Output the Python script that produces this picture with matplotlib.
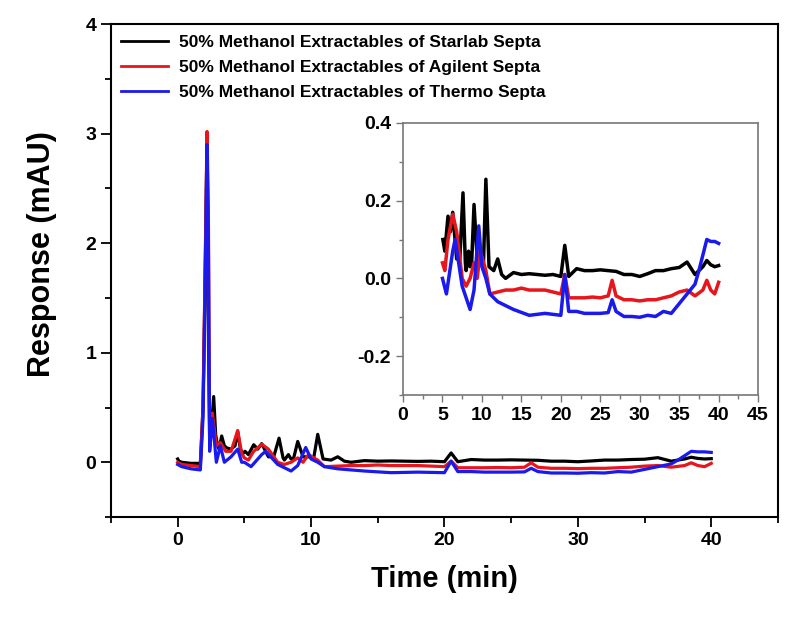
import matplotlib
matplotlib.use("Agg")
import matplotlib.pyplot as plt
from matplotlib.ticker import MultipleLocator

plt.rcParams['font.family'] = ['Liberation Sans', 'DejaVu Sans']
plt.rcParams['font.weight'] = 'bold'
plt.rcParams['axes.unicode_minus'] = False

labels = ["50% Methanol Extractables of Starlab Septa",
          "50% Methanol Extractables of Agilent Septa",
          "50% Methanol Extractables of Thermo Septa"]
colors = ["black", "#e8151b", "#1a1aee"]

# Starlab (black)
t_black = [0.0, 0.1, 0.3, 1.0, 1.7, 1.9, 2.05, 2.2, 2.3, 2.4, 2.55, 2.7, 2.85, 3.0, 3.1, 3.3, 3.5, 3.7, 4.0, 4.3, 4.5, 4.7, 4.9,
           5.05, 5.3, 5.7, 6.0, 6.3, 6.8, 7.2, 7.6, 7.9, 8.0, 8.3, 8.5, 8.7, 9.0, 9.4, 9.8, 10.2, 10.5, 10.9, 11.5, 12.0,
           12.5, 13.0, 14.0, 15.0, 16.0, 17.0, 18.0, 19.0, 20.0, 20.5, 21.0, 22.0, 23.0, 24.0, 25.0, 26.0, 27.0, 28.0,
           29.0, 30.0, 31.0, 32.0, 33.0, 34.0, 35.0, 36.0, 37.0, 38.0, 38.5, 39.0, 39.5, 40.0]
v_black = [0.03, 0.01, 0.0, -0.01, -0.01, 0.5, 1.6, 2.95, 1.2, 0.15, 0.35, 0.6, 0.25, 0.15, 0.12, 0.24, 0.15, 0.13, 0.12, 0.15, 0.28, 0.12, 0.08,
           0.1, 0.07, 0.16, 0.12, 0.17, 0.05, 0.05, 0.22, 0.04, 0.02, 0.07, 0.03, 0.04, 0.19, 0.05, 0.05, 0.04, 0.255, 0.03, 0.02, 0.05,
           0.01, 0.0, 0.015, 0.01, 0.012, 0.01, 0.008, 0.01, 0.005, 0.085, 0.005, 0.025, 0.02, 0.02, 0.022, 0.02, 0.018, 0.01,
           0.01, 0.005, 0.012, 0.02, 0.02, 0.025, 0.028, 0.042, 0.01, 0.03, 0.046, 0.035, 0.03, 0.033]

# Agilent (red)
t_red = [0.0, 0.3, 1.0, 1.7, 1.9, 2.05, 2.2, 2.3, 2.4, 2.6, 2.9, 3.2, 3.6, 4.0, 4.5, 4.8,
         5.0, 5.3, 5.7, 6.3, 6.8, 7.5, 8.0, 8.5, 9.0, 9.4, 9.8, 10.5, 11.0, 12.0, 13.0, 14.0, 15.0, 16.0, 17.0,
         18.0, 19.0, 20.0, 20.5, 21.0, 22.0, 23.0, 24.0, 25.0, 26.0, 26.5, 27.0, 28.0, 29.0, 30.0, 31.0, 32.0,
         33.0, 34.0, 35.0, 36.0, 37.0, 38.0, 38.5, 39.0, 39.5, 40.0]
v_red = [0.0, -0.02, -0.03, -0.04, 0.5, 1.7, 3.02, 2.33, 0.15, 0.45, 0.15, 0.18, 0.1, 0.1, 0.29, 0.08,
         0.04, 0.02, 0.1, 0.165, 0.12, 0.0, -0.02, 0.0, 0.04, 0.0, 0.07, 0.02, -0.04, -0.035, -0.03, -0.03, -0.025, -0.03, -0.03,
         -0.03, -0.035, -0.04, 0.01, -0.05, -0.05, -0.05, -0.048, -0.05, -0.045, -0.005, -0.045, -0.055, -0.055, -0.058, -0.055, -0.055,
         -0.05, -0.045, -0.035, -0.03, -0.045, -0.03, -0.005, -0.03, -0.04, -0.01]

# Thermo (blue)
t_blue = [0.0, 0.3, 1.0, 1.7, 1.9, 2.05, 2.2, 2.3, 2.4, 2.6, 2.9, 3.2, 3.5, 4.0, 4.5, 4.8,
          5.0, 5.5, 6.3, 6.6, 7.5, 8.0, 8.5, 9.0, 9.6, 10.0, 10.5, 11.0, 12.0, 13.0, 14.0, 16.0, 18.0, 20.0, 20.5,
          21.0, 22.0, 23.0, 24.0, 25.0, 26.0, 26.5, 27.0, 28.0, 29.0, 30.0, 31.0, 32.0, 33.0, 34.0, 35.0, 36.0,
          37.0, 37.5, 38.0, 38.5, 39.0, 39.5, 40.0]
v_blue = [-0.02, -0.04, -0.06, -0.07, 0.4, 1.5, 2.9, 2.1, 0.1, 0.4, 0.0, 0.15, 0.0, 0.05, 0.12, 0.0,
          0.0, -0.04, 0.07, 0.1, -0.02, -0.05, -0.08, -0.03, 0.135, 0.03, 0.0, -0.04, -0.06, -0.07, -0.08, -0.095, -0.09, -0.095, 0.01,
          -0.085, -0.085, -0.09, -0.09, -0.09, -0.088, -0.055, -0.085, -0.098, -0.098, -0.1, -0.095, -0.098, -0.085, -0.09, -0.065, -0.04,
          -0.015, 0.02, 0.06, 0.1, 0.095, 0.095, 0.09]

series = [(t_black, v_black), (t_red, v_red), (t_blue, v_blue)]

fig = plt.figure(figsize=(8.07, 6.27), dpi=100)
ax = fig.add_axes([0.1375, 0.1754, 0.8265, 0.786])
for (t, v), c, lab in zip(series, colors, labels):
    ax.plot(t, v, color=c, lw=2.3, label=lab)
ax.set_xlim(-5, 45)
ax.set_ylim(-0.5, 4)
ax.xaxis.set_major_locator(MultipleLocator(10))
ax.xaxis.set_minor_locator(MultipleLocator(5))
ax.yaxis.set_major_locator(MultipleLocator(1))
ax.yaxis.set_minor_locator(MultipleLocator(0.5))
ax.tick_params(which='both', direction='out', top=False, right=False, width=1.3, labelsize=14)
ax.tick_params(which='major', length=7)
ax.tick_params(which='minor', length=4)
for s in ax.spines.values():
    s.set_linewidth(1.5)
for lbl in ax.get_xticklabels() + ax.get_yticklabels():
    lbl.set_fontweight('bold')
ax.set_xlabel("Time (min)", fontsize=21, fontweight='bold', labelpad=12)
ax.set_ylabel("Response (mAU)", fontsize=22, fontweight='bold')
ax.yaxis.set_label_coords(-0.081, 0.533)
leg = ax.legend(loc='upper left', frameon=False, handlelength=2.7,
                borderaxespad=0.2, labelspacing=0.58, handletextpad=0.6,
                prop={'weight': 'bold', 'size': 12.5})
for lh in leg.get_lines():
    lh.set_linewidth(2.0)

ins = fig.add_axes([0.4994, 0.37, 0.44, 0.434])
for (t, v), c in zip(series, colors):
    tt = [a for a in t if a >= 5.0]
    vv = [b for a, b in zip(t, v) if a >= 5.0]
    ins.plot(tt, vv, color=c, lw=2.5)
ins.set_xlim(0, 45)
ins.set_ylim(-0.3, 0.4)
ins.xaxis.set_major_locator(MultipleLocator(5))
ins.xaxis.set_minor_locator(MultipleLocator(2.5))
ins.yaxis.set_major_locator(MultipleLocator(0.2))
ins.yaxis.set_minor_locator(MultipleLocator(0.1))
ins.tick_params(which='both', direction='out', top=False, right=False, color='#777777', width=1.0, labelsize=14)
ins.tick_params(which='major', length=5)
ins.tick_params(which='minor', length=3)
for s in ins.spines.values():
    s.set_color('#777777')
    s.set_linewidth(1.2)
for lbl in ins.get_xticklabels() + ins.get_yticklabels():
    lbl.set_fontweight('bold')

fig.savefig("out.png", dpi=100)
